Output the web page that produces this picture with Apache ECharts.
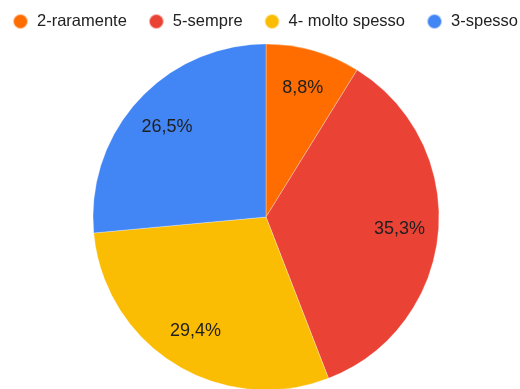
<!DOCTYPE html>
<html><head><meta charset="utf-8">
<script src="https://cdn.jsdelivr.net/npm/echarts@6/dist/echarts.min.js"></script>
<style>html,body{margin:0;padding:0;background:#fff}#c{width:520px;height:389px}</style>
</head><body><div id="c"></div>
<script>
const categories = ["2-raramente", "5-sempre", "4- molto spesso", "3-spesso"];
const values = [3, 12, 10, 9];
const colors = ["#ff6d01", "#ea4335", "#fbbc04", "#4285f4"];

const total = values.reduce((a, b) => a + b, 0);
const data = categories.map((n, i) => ({ name: n, value: values[i] }));
const fmt = p => (p.value / total * 100).toFixed(1).replace('.', ',') + '%';
const font = '"Liberation Sans", Arial, sans-serif';

const chart = echarts.init(document.getElementById('c'));
chart.setOption({
  animation: false,
  color: colors,
  legend: {
    left: 12, top: 13, padding: 0, width: 518,
    icon: 'circle', itemWidth: 15, itemHeight: 15, itemGap: 21,
    textStyle: { fontFamily: font, fontSize: 16.5, color: '#222', padding: [0, 0, 0, 4] },
    data: categories
  },
  series: [
    {
      type: 'pie', center: [266, 217], radius: [0, 173],
      startAngle: 90, clockwise: true,
      data: data,
      label: { show: false }, labelLine: { show: false },
      itemStyle: { borderColor: 'rgba(255,255,255,0.6)', borderWidth: 0.5 },
      silent: true
    },
    {
      type: 'pie', center: [266, 217], radius: [0, 262],
      startAngle: 90, clockwise: true,
      data: data,
      itemStyle: { color: 'rgba(0,0,0,0)' },
      label: { show: true, position: 'inside', formatter: fmt, fontFamily: font, fontSize: 18, color: '#1f1f1f' },
      labelLine: { show: false },
      silent: true
    }
  ]
});
</script></body></html>
